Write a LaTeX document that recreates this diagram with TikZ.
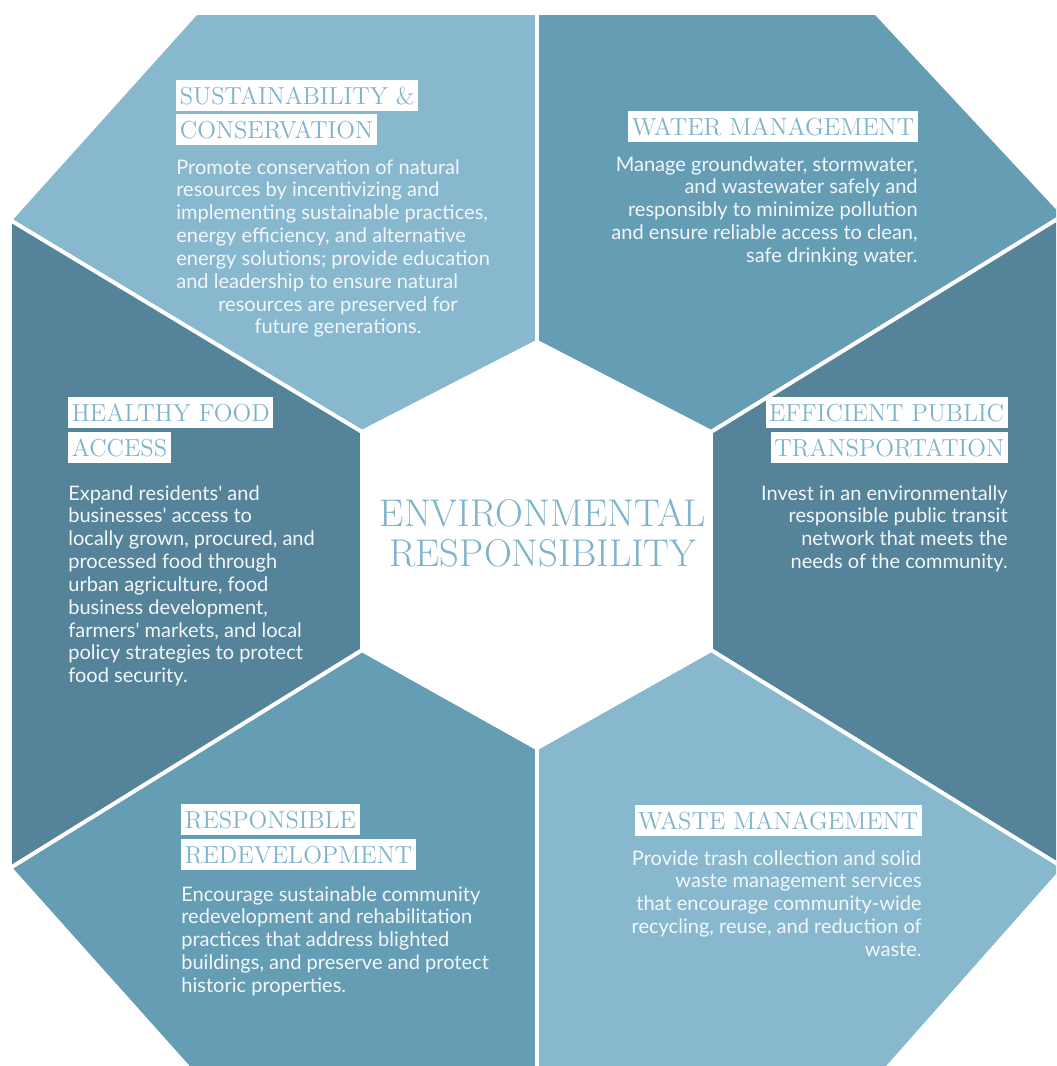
\documentclass[tikz,border=0pt]{standalone}
\usepackage{fontspec}
\usepackage{tikz}
\newfontfamily\bodyfont{Lato}
\usetikzlibrary{positioning}

\definecolor{lightpane}{HTML}{87B8CE}
\definecolor{midpane}{HTML}{659DB5}
\definecolor{darkpane}{HTML}{55839A}
\definecolor{headblue}{HTML}{7FB3CB}
\definecolor{bodywhite}{HTML}{F3F7F9}

\tikzset{
    pane/.style={draw=white, line width=2.2pt, line join=miter},
    headbox/.style={fill=white, text=headblue, font=\fontsize{14}{17}\selectfont, inner xsep=2pt, inner ysep=4pt, text height=9.6pt, text depth=0pt},
    bodytext/.style={text=bodywhite, font=\bodyfont\fontsize{11.4}{13}\selectfont, inner sep=0pt}
}

\begin{document}
\begin{tikzpicture}[x=0.02cm, y=-0.02cm]

            \useasboundingbox (0,0) rectangle (1056,1066);
            \clip (0,0) rectangle (1056,1066);

            % Corners of the hexagon in the middle
            \coordinate (hT) at (537,342);
            \coordinate (hUR) at (711,432);
            \coordinate (hLR) at (711,650);
            \coordinate (hB) at (537,748);
            \coordinate (hLL) at (362,650);
            \coordinate (hUL) at (362,432);

            % Corners of the outer octagon
            \coordinate (oTL) at (196,13);
            \coordinate (oTM) at (537,13);
            \coordinate (oTR) at (876,13);
            \coordinate (oRU) at (1064,215);
            \coordinate (oRL) at (1064,868);
            \coordinate (oBR) at (880,1076);
            \coordinate (oBM) at (537,1076);
            \coordinate (oBL) at (196,1076);
            \coordinate (oLL) at (10,868);
            \coordinate (oLU) at (10,220);

            % Six panes round the hexagon
            \filldraw[pane, fill=lightpane] (oTL) -- (oTM) -- (hT) -- (hUL) -- (oLU) -- cycle;
            \filldraw[pane, fill=midpane] (oTM) -- (oTR) -- (oRU) -- (hUR) -- (hT) -- cycle;
            \filldraw[pane, fill=darkpane] (oRU) -- (oRL) -- (hLR) -- (hUR) -- cycle;
            \filldraw[pane, fill=lightpane] (oRL) -- (oBR) -- (oBM) -- (hB) -- (hLR) -- cycle;
            \filldraw[pane, fill=midpane] (oBM) -- (oBL) -- (oLL) -- (hLL) -- (hB) -- cycle;
            \filldraw[pane, fill=darkpane] (oLL) -- (oLU) -- (hUL) -- (hLL) -- cycle;
            \filldraw[pane, fill=white] (hT) -- (hUR) -- (hLR) -- (hB) -- (hLL) -- (hUL) -- cycle;

            % Title in the middle
            \node[text=headblue, font=\fontsize{22}{23}\selectfont, align=center] (core) at (543,533) {ENVIRONMENTAL\\RESPONSIBILITY};

            % Headings
            \node[headbox, anchor=north west] (susHead) at (176,80) {SUSTAINABILITY \&};
            \node[headbox, anchor=north west] (susHeadB) at (176,114) {CONSERVATION};
            \node[headbox, anchor=north east] (watHead) at (918,111) {WATER MANAGEMENT};
            \node[headbox, anchor=north west] (foodHead) at (68,397) {HEALTHY FOOD};
            \node[headbox, anchor=north west] (foodHeadB) at (68,432) {ACCESS};
            \node[headbox, anchor=north east] (busHead) at (1008,397) {EFFICIENT PUBLIC};
            \node[headbox, anchor=north east] (busHeadB) at (1008,432) {TRANSPORTATION};
            \node[headbox, anchor=north west] (redHead) at (181,804) {RESPONSIBLE};
            \node[headbox, anchor=north west] (redHeadB) at (181,839) {REDEVELOPMENT};
            \node[headbox, anchor=north east] (wasHead) at (922,805) {WASTE MANAGEMENT};

            % Texts under the headings
            \node[bodytext, anchor=north west, align=left] (susText) at (176,159) {Promote conservation of natural\\resources by incentivizing and\\implementing sustainable practices,\\energy efficiency, and alternative\\energy solutions; provide education\\and leadership to ensure natural};
            \node[bodytext, anchor=north, align=center] (susTextB) at (338,296) {resources are preserved for\\future generations.};
            \node[bodytext, anchor=north east, align=right] (watText) at (918,156) {Manage groundwater, stormwater,\\and wastewater safely and\\responsibly to minimize pollution\\and ensure reliable access to clean,\\safe drinking water.};
            \node[bodytext, anchor=north west, align=left] (foodText) at (68,485) {Expand residents' and\\businesses' access to\\locally grown, procured, and\\processed food through\\urban agriculture, food\\business development,\\farmers' markets, and local\\policy strategies to protect\\food security.};
            \node[bodytext, anchor=north east, align=right] (busText) at (1008,485) {Invest in an environmentally\\responsible public transit\\network that meets the\\needs of the community.};
            \node[bodytext, anchor=north west, align=left] (redText) at (181,886) {Encourage sustainable community\\redevelopment and rehabilitation\\practices that address blighted\\buildings, and preserve and protect\\historic properties.};
            \node[bodytext, anchor=north east, align=right] (wasText) at (922,850) {Provide trash collection and solid\\waste management services\\that encourage community-wide\\recycling, reuse, and reduction of\\waste.};

\end{tikzpicture}
\end{document}
